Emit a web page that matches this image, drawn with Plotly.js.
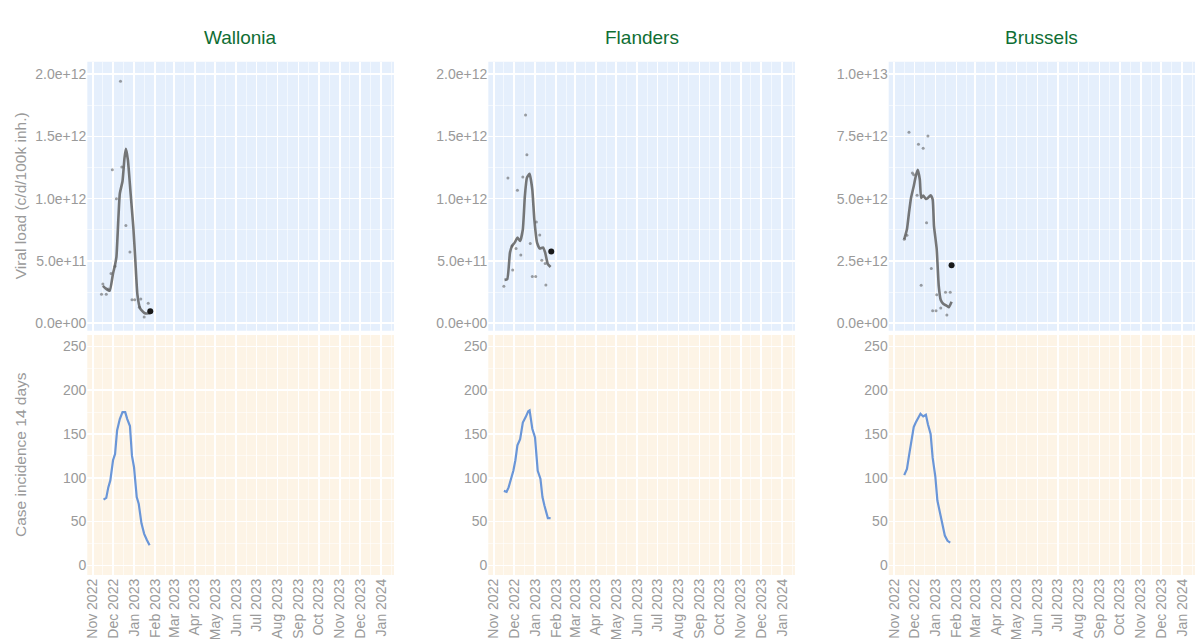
<!DOCTYPE html>
<html>
<head>
<meta charset="utf-8">
<script src="https://cdn.plot.ly/plotly-3.0.1.min.js"></script>
<style>html,body{margin:0;padding:0;background:#fff;}#chart{width:1195px;height:639px;}</style>
</head>
<body>
<div id="chart"></div>
<script>
// ---------- DATA ----------
const regions = ["Wallonia", "Flanders", "Brussels"];
const yTitles = ["Viral load (c/d/100k inh.)", "Case incidence 14 days"];

// Viral load: individual samples (c/d/100k inh.)
const walPtsDates = ["2022-11-14","2022-11-16","2022-11-21","2022-11-24","2022-11-28","2022-11-30","2022-12-04","2022-12-06","2022-12-12","2022-12-14","2022-12-20","2022-12-26","2022-12-29","2023-01-02","2023-01-09","2023-01-11","2023-01-16","2023-01-22"];
const walPtsVals  = [0.232e12,0.314e12,0.232e12,0.274e12,0.40e12,1.233e12,0.458e12,1.00e12,1.944e12,1.254e12,0.785e12,0.572e12,0.189e12,0.189e12,0.128e12,0.194e12,0.05e12,0.16e12];
const walLastDate = ["2023-01-25"];
const walLastVal  = [0.096e12];
const walLineDates = ["2022-11-16","2022-11-20","2022-11-26","2022-12-01","2022-12-04","2022-12-06","2022-12-11","2022-12-15","2022-12-18","2022-12-20","2022-12-23","2022-12-27","2022-12-31","2023-01-03","2023-01-06","2023-01-10","2023-01-17","2023-01-25"];
const walLineVals  = [0.30e12,0.28e12,0.26e12,0.40e12,0.47e12,0.53e12,1.04e12,1.14e12,1.33e12,1.40e12,1.31e12,1.04e12,0.77e12,0.50e12,0.23e12,0.12e12,0.08e12,0.08e12];

const flaPtsDates = ["2022-11-16","2022-11-22","2022-11-28","2022-11-29","2022-12-04","2022-12-06","2022-12-11","2022-12-14","2022-12-18","2022-12-20","2022-12-25","2022-12-28","2023-01-02","2023-01-03","2023-01-08","2023-01-11","2023-01-16","2023-01-17"];
const flaPtsVals  = [0.296e12,1.167e12,0.62e12,0.428e12,0.60e12,1.068e12,0.548e12,1.175e12,1.672e12,1.353e12,0.64e12,0.376e12,0.376e12,0.812e12,0.708e12,0.506e12,0.479e12,0.306e12];
const flaLastDate = ["2023-01-25"];
const flaLastVal  = [0.575e12];
const flaLineDates = ["2022-11-17","2022-11-21","2022-11-25","2022-11-28","2022-12-02","2022-12-06","2022-12-10","2022-12-14","2022-12-17","2022-12-20","2022-12-24","2022-12-28","2022-12-31","2023-01-04","2023-01-08","2023-01-13","2023-01-16","2023-01-20","2023-01-24"];
const flaLineVals  = [0.348e12,0.354e12,0.567e12,0.62e12,0.647e12,0.687e12,0.66e12,0.753e12,1.02e12,1.167e12,1.20e12,1.073e12,0.833e12,0.647e12,0.60e12,0.607e12,0.567e12,0.474e12,0.452e12];

const bruPtsDates = ["2022-11-16","2022-11-20","2022-11-23","2022-11-28","2022-11-30","2022-12-05","2022-12-07","2022-12-11","2022-12-14","2022-12-19","2022-12-21","2022-12-26","2022-12-28","2023-01-02","2023-01-03","2023-01-09","2023-01-16","2023-01-18","2023-01-23"];
const bruPtsVals  = [3.37e12,3.53e12,7.67e12,6.03e12,5.96e12,5.14e12,7.19e12,1.52e12,7.03e12,4.03e12,7.52e12,2.20e12,0.50e12,0.50e12,1.14e12,0.61e12,1.24e12,0.33e12,1.24e12];
const bruLastDate = ["2023-01-25"];
const bruLastVal  = [2.33e12];
const bruLineDates = ["2022-11-16","2022-11-20","2022-11-23","2022-11-26","2022-11-30","2022-12-03","2022-12-06","2022-12-09","2022-12-11","2022-12-14","2022-12-18","2022-12-21","2022-12-25","2022-12-28","2022-12-30","2023-01-03","2023-01-06","2023-01-09","2023-01-13","2023-01-18","2023-01-21","2023-01-25"];
const bruLineVals  = [3.37e12,3.77e12,4.43e12,5.03e12,5.50e12,5.90e12,6.16e12,5.77e12,5.03e12,5.13e12,4.99e12,5.03e12,5.14e12,4.97e12,3.90e12,2.97e12,1.50e12,0.93e12,0.77e12,0.70e12,0.64e12,0.86e12];

// Case incidence 14 days
const walCaseDates = ["2022-11-17","2022-11-21","2022-11-24","2022-11-27","2022-12-01","2022-12-04","2022-12-07","2022-12-11","2022-12-15","2022-12-19","2022-12-22","2022-12-26","2022-12-29","2023-01-01","2023-01-05","2023-01-08","2023-01-12","2023-01-16","2023-01-20","2023-01-24"];
const walCaseVals  = [75,77,89,97,120,127,154,167,175,175,167,159,125,112,78,70,48,36,29,23];
const flaCaseDates = ["2022-11-16","2022-11-20","2022-11-23","2022-11-26","2022-11-30","2022-12-03","2022-12-06","2022-12-10","2022-12-14","2022-12-18","2022-12-22","2022-12-24","2022-12-28","2023-01-01","2023-01-03","2023-01-05","2023-01-09","2023-01-12","2023-01-15","2023-01-18","2023-01-20","2023-01-24"];
const flaCaseVals  = [85,84,89,97,108,120,137,144,163,169,176,177,156,146,123,108,99,78,68,59,54,54];
const bruCaseDates = ["2022-11-16","2022-11-20","2022-11-23","2022-11-26","2022-11-30","2022-12-03","2022-12-06","2022-12-10","2022-12-14","2022-12-18","2022-12-21","2022-12-25","2022-12-28","2023-01-01","2023-01-04","2023-01-08","2023-01-12","2023-01-15","2023-01-19","2023-01-23"];
const bruCaseVals  = [103,110,125,140,158,163,167,173,170,172,161,150,123,101,74,59,46,34,28,26];

// Axis tick values
const vlTicksWF = [0, 0.5e12, 1.0e12, 1.5e12, 2.0e12];
const vlTicksBru = [0, 2.5e12, 5.0e12, 7.5e12, 1.0e13];
const caseTicks = [0, 50, 100, 150, 200, 250];

// ---------- STYLE ----------
const FONT = "Liberation Sans, Arial, sans-serif";
const GREY = "#9a9a9a";
const TOP_BG = "#e5effc";
const BOT_BG = "#fdf4e6";

function sci(v) {
  const s = v.toExponential(1);           // e.g. "2.0e+12", "0.0e+0"
  const m = s.match(/^(-?[\d.]+)e([+-])(\d+)$/);
  return m[1] + "e" + m[2] + (m[3].length < 2 ? "0" + m[3] : m[3]);
}

const vlData = [
  [walPtsDates, walPtsVals, walLastDate, walLastVal, walLineDates, walLineVals],
  [flaPtsDates, flaPtsVals, flaLastDate, flaLastVal, flaLineDates, flaLineVals],
  [bruPtsDates, bruPtsVals, bruLastDate, bruLastVal, bruLineDates, bruLineVals]
];
const caseData = [[walCaseDates, walCaseVals],[flaCaseDates, flaCaseVals],[bruCaseDates, bruCaseVals]];

const traces = [];
vlData.forEach((d, i) => {
  const xa = "x" + (i === 0 ? "" : (i + 1));
  const ya = "y" + (i === 0 ? "" : (i + 1));
  traces.push({x: d[0], y: d[1], xaxis: xa, yaxis: ya, type: "scatter", mode: "markers",
    marker: {size: 3, color: "rgba(70,70,70,0.5)"}});
  traces.push({x: d[4], y: d[5], xaxis: xa, yaxis: ya, type: "scatter", mode: "lines",
    line: {color: "rgba(95,95,95,0.85)", width: 2.6, shape: "spline", smoothing: 0.45}});
  traces.push({x: d[2], y: d[3], xaxis: xa, yaxis: ya, type: "scatter", mode: "markers",
    marker: {size: 6, color: "#1a1a1a"}});
});
caseData.forEach((d, i) => {
  const n = i + 4;
  traces.push({x: d[0], y: d[1], xaxis: "x" + n, yaxis: "y" + n, type: "scatter", mode: "lines",
    line: {color: "#6a96d8", width: 2.2}});
});

const W = 1195, H = 639;
const colDom = [[87.3/W, 394/W], [488.3/W, 795/W], [888.7/W, 1]];
const topDom = [(H-330.7)/H, (H-61.7)/H];
const botDom = [(H-575)/H, (H-335)/H];
const xRange = ["2022-10-24", "2024-01-20"];

const gridMajor = "#ffffff";
const gridMinor = "rgba(255,255,255,0.55)";

function xAxis(col, showLabels, anchor) {
  return {
    domain: colDom[col], anchor: anchor, type: "date", range: xRange,
    dtick: "M1", tick0: "2022-11-01", tickformat: "%b %Y", tickangle: -90,
    showticklabels: showLabels, ticks: "", zeroline: false, showline: false,
    gridcolor: gridMajor, gridwidth: 1.6,
    minor: {dtick: "M1", tick0: "2022-10-16", showgrid: true, gridcolor: gridMinor, gridwidth: 1},
    tickfont: {family: FONT, size: 14, color: GREY}, fixedrange: true
  };
}
function yAxis(dom, range, ticks, isSci, anchor) {
  const step = ticks[1] - ticks[0];
  return {
    domain: dom, anchor: anchor, range: range,
    tickmode: "array", tickvals: ticks, ticktext: ticks.map(v => isSci ? sci(v) : String(v)),
    ticks: "", zeroline: false, showline: false, gridcolor: gridMajor, gridwidth: 1.6,
    minor: {dtick: step / 2, tick0: 0, showgrid: true, gridcolor: gridMinor, gridwidth: 1},
    tickfont: {family: FONT, size: 14, color: GREY}, fixedrange: true
  };
}

const annotations = regions.map((r, i) => ({
  text: r, xref: "paper", yref: "paper", x: (colDom[i][0] + colDom[i][1]) / 2, y: (H - 38) / H,
  xanchor: "center", yanchor: "middle", showarrow: false,
  font: {family: FONT, size: 19, color: "#0f6e34"}
}));
[topDom, botDom].forEach((dom, k) => {
  annotations.push({text: yTitles[k], xref: "paper", yref: "paper", x: 20 / W, y: (dom[0] + dom[1]) / 2,
    xanchor: "center", yanchor: "middle", textangle: -90, showarrow: false,
    font: {family: FONT, size: 15.5, color: GREY}});
});

const layout = {
  width: W, height: H, margin: {l: 0, r: 0, t: 0, b: 0},
  paper_bgcolor: "#ffffff", plot_bgcolor: "rgba(0,0,0,0)", showlegend: false,
  xaxis:  xAxis(0, false, "y"),
  xaxis2: xAxis(1, false, "y2"),
  xaxis3: xAxis(2, false, "y3"),
  xaxis4: xAxis(0, true, "y4"),
  xaxis5: xAxis(1, true, "y5"),
  xaxis6: xAxis(2, true, "y6"),
  yaxis:  yAxis(topDom, [-0.06e12, 2.1e12], vlTicksWF, true, "x"),
  yaxis2: yAxis(topDom, [-0.06e12, 2.1e12], vlTicksWF, true, "x2"),
  yaxis3: yAxis(topDom, [-0.3e12, 10.5e12], vlTicksBru, true, "x3"),
  yaxis4: yAxis(botDom, [-11, 263], caseTicks, false, "x4"),
  yaxis5: yAxis(botDom, [-11, 263], caseTicks, false, "x5"),
  yaxis6: yAxis(botDom, [-11, 263], caseTicks, false, "x6"),
  shapes: [],
  annotations: annotations
};
for (let i = 0; i < 3; i++) {
  layout.shapes.push({type: "rect", xref: "paper", yref: "paper", layer: "below",
    x0: colDom[i][0], x1: colDom[i][1], y0: topDom[0], y1: topDom[1], fillcolor: TOP_BG, line: {width: 0}});
  layout.shapes.push({type: "rect", xref: "paper", yref: "paper", layer: "below",
    x0: colDom[i][0], x1: colDom[i][1], y0: botDom[0], y1: botDom[1], fillcolor: BOT_BG, line: {width: 0}});
}

Plotly.newPlot("chart", traces, layout, {displayModeBar: false, staticPlot: true});
</script>
</body>
</html>
